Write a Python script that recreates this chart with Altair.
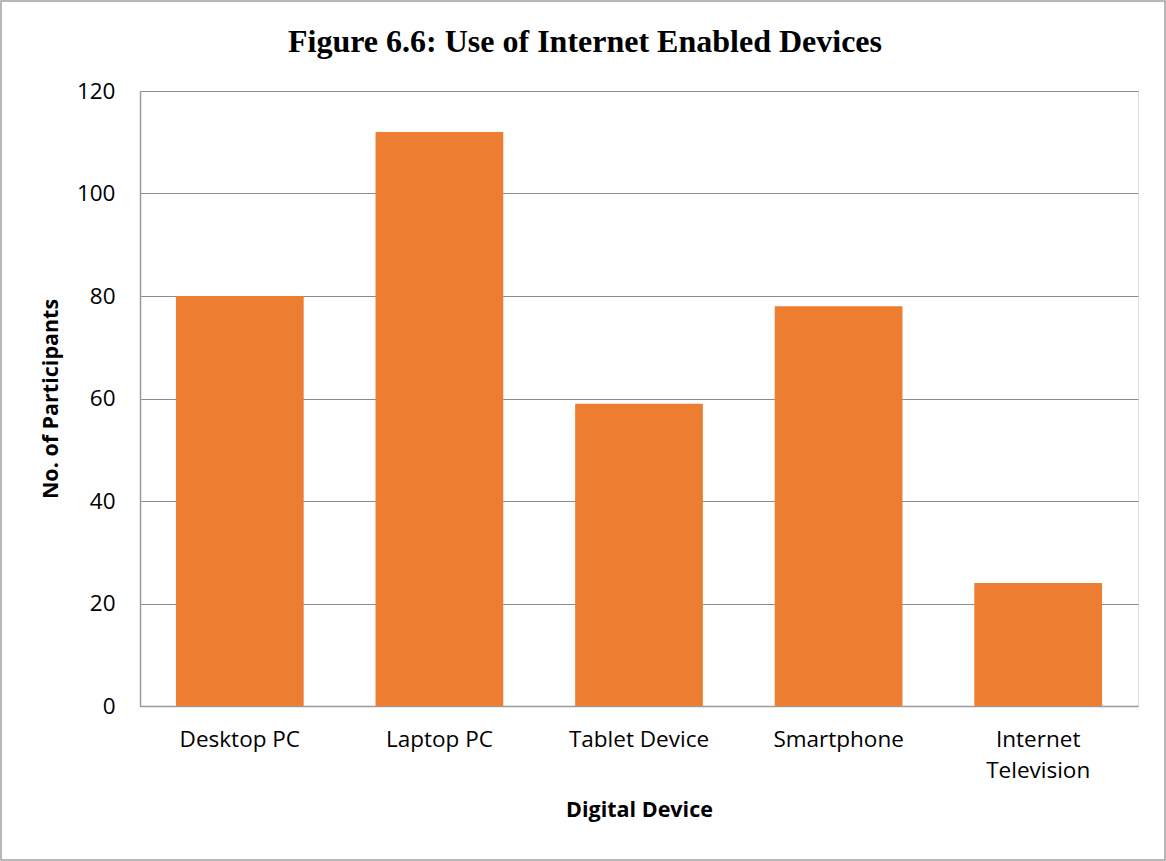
import altair as alt
import pandas as pd

devices = ["Desktop PC", "Laptop PC", "Tablet Device", "Smartphone", "Internet Television"]
participants = [80, 112, 59, 78, 24]
y_ticks = [0, 20, 40, 60, 80, 100, 120]
title_text = "Figure 6.6: Use of Internet Enabled Devices"

df = pd.DataFrame({"device": devices, "participants": participants})

W, H = 998, 615
PL, PT, PR, PB = 140, 91, 28, 155

bars = alt.Chart(df).mark_bar(color="#ED7D31").encode(
    x=alt.X(
        "device:N",
        sort=devices,
        scale=alt.Scale(paddingInner=0.36, paddingOuter=0.18),
        axis=alt.Axis(
            title="Digital Device",
            labelAngle=0,
            labelFont="Open Sans",
            labelFontSize=22.5,
            labelColor="#000000",
            labelPadding=22,
            labelLineHeight=31,
            labelExpr="datum.label == 'Internet Television' ? ['Internet', 'Television'] : datum.label",
            ticks=False,
            domainColor="#9a9a9a",
            domainWidth=1.5,
            titleFont="Open Sans",
            titleFontSize=21.5,
            titleFontWeight="bold",
            titleColor="#000000",
            titlePadding=18,
        ),
    ),
    y=alt.Y(
        "participants:Q",
        scale=alt.Scale(domain=[0, 120], nice=False),
        axis=alt.Axis(
            title="No. of Participants",
            values=y_ticks,
            labelFont="Open Sans",
            labelFontSize=22.5,
            labelColor="#000000",
            labelPadding=25,
            ticks=False,
            domainColor="#9a9a9a",
            domainWidth=1.5,
            gridColor="#8c8c8c",
            gridWidth=1.2,
            titleFont="Open Sans",
            titleFontSize=21.5,
            titleFontWeight="bold",
            titleColor="#000000",
            titlePadding=14,
        ),
    ),
)

title = alt.Chart(pd.DataFrame({"t": [title_text]})).mark_text(
    font="Liberation Serif",
    fontSize=32,
    fontWeight="bold",
    color="#000000",
    align="center",
    baseline="alphabetic",
).encode(
    text="t:N",
    x=alt.value(445),
    y=alt.value(-39),
)

border = alt.Chart(pd.DataFrame({"a": [0]})).mark_rect(
    fill=None, stroke="#a0a0a0", strokeWidth=1.5
).encode(
    x=alt.value(-PL + 1),
    x2=alt.value(W + PR - 1),
    y=alt.value(-PT + 1),
    y2=alt.value(H + PB - 1),
)

chart = alt.layer(bars, title, border).properties(
    width=W,
    height=H,
    padding={"left": PL, "top": PT, "right": PR, "bottom": PB},
    autosize=alt.AutoSizeParams(type="none"),
).configure_view(stroke=None).configure(background="#ffffff")

chart.save("out.html", embed_options={"renderer": "svg", "actions": False})
